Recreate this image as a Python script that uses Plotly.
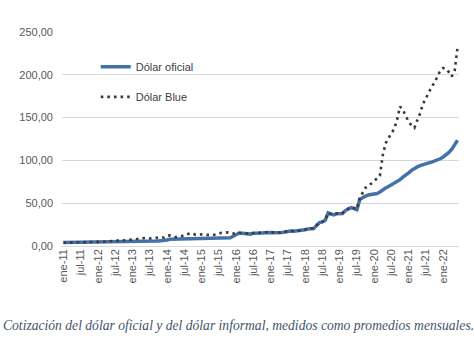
import plotly.graph_objects as go

# ---- data (monthly averages, ene-11 .. jun-22) ----
meses = ["ene", "feb", "mar", "abr", "may", "jun", "jul", "ago", "sep", "oct", "nov", "dic"]
anios = [11, 12, 13, 14, 15, 16, 17, 18, 19, 20, 21, 22]

oficial_2011 = [3.98, 4.01, 4.04, 4.07, 4.08, 4.10, 4.13, 4.18, 4.20, 4.23, 4.27, 4.30]
oficial_2012 = [4.33, 4.36, 4.37, 4.40, 4.45, 4.50, 4.56, 4.61, 4.67, 4.73, 4.79, 4.88]
oficial_2013 = [4.95, 5.01, 5.08, 5.15, 5.23, 5.33, 5.45, 5.56, 5.71, 5.85, 6.05, 6.30]
oficial_2014 = [6.95, 7.86, 7.93, 8.00, 8.03, 8.10, 8.15, 8.29, 8.41, 8.48, 8.51, 8.55]
oficial_2015 = [8.62, 8.71, 8.80, 8.90, 8.98, 9.08, 9.20, 9.32, 9.39, 9.52, 9.65, 11.40]
oficial_2016 = [13.6, 15.0, 15.0, 14.5, 14.1, 13.9, 15.0, 14.8, 15.1, 15.2, 15.4, 16.0]
oficial_2017 = [15.9, 15.6, 15.5, 15.3, 15.7, 16.3, 17.3, 17.4, 17.3, 17.6, 17.5, 17.7]
oficial_2018 = [19.0, 19.9, 20.3, 20.3, 24.1, 27.3, 28.1, 30.1, 38.5, 36.9, 36.3, 37.7]
oficial_2019 = [37.4, 38.0, 41.4, 43.4, 44.8, 43.6, 42.4, 54.4, 57.0, 58.4, 59.6, 59.9]
oficial_2020 = [60.0, 61.3, 63.1, 65.7, 67.7, 69.5, 71.4, 73.2, 75.0, 77.5, 80.4, 82.6]
oficial_2021 = [85.4, 88.4, 90.7, 92.4, 93.9, 95.3, 96.2, 97.1, 98.0, 99.2, 100.4, 101.9]
oficial_2022 = [104.0, 106.5, 109.4, 113.1, 117.6, 123.5]

blue_2011 = [4.00, 4.02, 4.06, 4.12, 4.12, 4.15, 4.20, 4.24, 4.30, 4.40, 4.55, 4.70]
blue_2012 = [4.70, 4.72, 4.80, 5.00, 5.50, 5.90, 6.20, 6.30, 6.20, 6.40, 6.40, 6.70]
blue_2013 = [7.5, 7.9, 8.4, 8.5, 9.3, 8.5, 8.5, 8.8, 9.3, 9.9, 9.9, 9.9]
blue_2014 = [12.0, 12.4, 10.8, 10.4, 11.2, 11.9, 12.0, 13.7, 14.8, 14.6, 13.0, 13.2]
blue_2015 = [13.6, 13.1, 12.8, 12.6, 12.9, 13.5, 14.9, 15.3, 15.8, 15.9, 15.2, 14.5]
blue_2016 = [14.2, 15.4, 15.3, 14.7, 14.4, 14.3, 15.2, 15.2, 15.6, 15.6, 15.8, 16.4]
blue_2017 = [16.1, 15.9, 15.8, 15.6, 16.0, 16.6, 17.7, 17.8, 17.6, 17.8, 17.8, 18.0]
blue_2018 = [19.4, 20.3, 20.7, 20.7, 24.3, 27.5, 28.4, 30.4, 38.8, 37.3, 36.8, 38.0]
blue_2019 = [37.8, 38.5, 41.9, 44.0, 45.5, 44.3, 43.0, 56.0, 63.0, 68.0, 70.0, 73.0]
blue_2020 = [76.0, 78.0, 82.0, 106.0, 120.0, 126.0, 131.0, 137.0, 148.0, 163.0, 159.0, 152.0]
blue_2021 = [145.0, 141.0, 138.0, 147.0, 155.0, 166.0, 173.0, 180.0, 186.0, 191.0, 198.0, 205.0]
blue_2022 = [208.0, 207.0, 203.0, 198.0, 205.0, 232.0]

oficial = (oficial_2011 + oficial_2012 + oficial_2013 + oficial_2014 + oficial_2015 + oficial_2016
           + oficial_2017 + oficial_2018 + oficial_2019 + oficial_2020 + oficial_2021 + oficial_2022)
blue = (blue_2011 + blue_2012 + blue_2013 + blue_2014 + blue_2015 + blue_2016
        + blue_2017 + blue_2018 + blue_2019 + blue_2020 + blue_2021 + blue_2022)

n = len(oficial)
x_idx = list(range(n))
etiquetas = [f"{meses[i % 12]}-{anios[i // 12]}" for i in range(n)]
tick_pos = [i for i in range(n) if i % 6 == 0]
tick_txt = [etiquetas[i] for i in tick_pos]

fig = go.Figure()
fig.add_trace(go.Scatter(
    x=x_idx, y=oficial, mode="lines", name="Dólar oficial",
    legendgroup="a",
    line=dict(color="#4472a8", width=3.5),
))
fig.add_trace(go.Scatter(
    x=x_idx, y=blue, mode="lines", name="Dólar Blue",
    legendgroup="b",
    line=dict(color="#3a3a3a", width=2.6, dash="2.6px,4px"),
))

axis_font = dict(family="Liberation Sans, Arial, sans-serif", size=11, color="#595959")

fig.update_layout(
    width=474, height=352,
    margin=dict(l=62, r=15, t=31.5, b=105.5),
    paper_bgcolor="white", plot_bgcolor="white",
    separators=",.",
    showlegend=True,
    legend=dict(
        x=0.085, y=0.905, xanchor="left", yanchor="top",
        bgcolor="rgba(0,0,0,0)",
        font=dict(family="Liberation Sans, Arial, sans-serif", size=11, color="#404040"),
        tracegroupgap=11,
    ),
    xaxis=dict(
        range=[-0.5, n - 0.5],
        tickmode="array", tickvals=tick_pos, ticktext=tick_txt,
        tickangle=-90, tickfont=axis_font,
        showgrid=False, zeroline=False, showline=False, ticks="",
    ),
    yaxis=dict(
        range=[0, 250], tickmode="linear", tick0=0, dtick=50,
        tickformat=".2f", tickfont=axis_font,
        showgrid=True, gridcolor="#d9d9d9", gridwidth=1,
        zeroline=True, zerolinecolor="#d9d9d9", zerolinewidth=1,
        showline=False, ticks="", ticklabelstandoff=8,
    ),
    annotations=[dict(
        text="<i>Cotización del dólar oficial y del dólar informal, medidos como promedios mensuales.</i>",
        xref="paper", yref="paper", x=0.4446, y=-0.37,
        xanchor="center", yanchor="middle", showarrow=False,
        font=dict(family="Liberation Serif, DejaVu Serif, serif", size=13.6, color="#44546a"),
    )],
)

fig.write_html("out.html")
